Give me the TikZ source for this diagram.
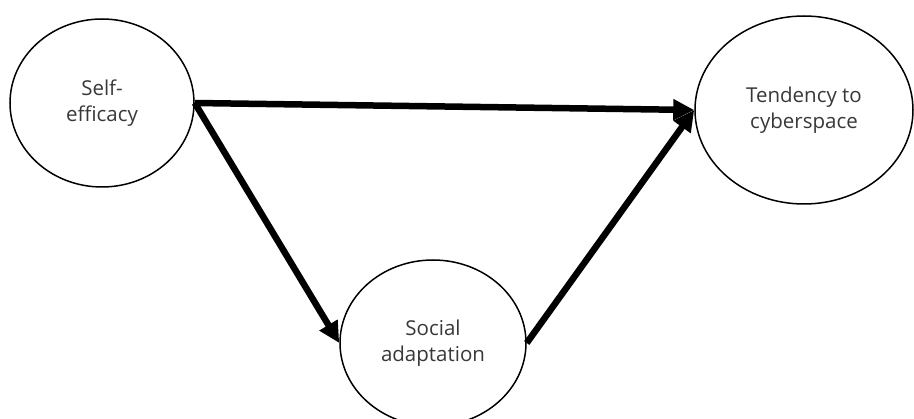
\documentclass[tikz,border=0pt]{standalone}
\usepackage{fontspec}
\setmainfont{Open Sans}
\usetikzlibrary{shapes.geometric,arrows.meta}

\begin{document}
\begin{tikzpicture}[x=1pt,y=-1pt,
    var/.style={ellipse, draw, line width=1.5pt, inner sep=0pt, align=center,
        font=\fontsize{20.5}{26.5}\selectfont, text=black!78},
    path/.style={line width=6.5pt, -{Triangle[length=21pt,width=20pt]}}]
    \useasboundingbox (0,0) rectangle (914,419);
    % Variables
    \node[var, minimum width=184pt, minimum height=168pt] (self) at (102,103) {Self-\\efficacy};
    \node[var, minimum width=218pt, minimum height=188pt] (tend) at (804,110) {Tendency to\\cyberspace};
    \node[var, minimum width=186pt, minimum height=166pt] (soc) at (433,343) {Social\\adaptation};
    % Paths
    \draw[path] (self.east) -- (tend.west);
    \draw[path] (self.east) -- (soc.west);
    \draw[path] (soc.east) -- (tend.west);
\end{tikzpicture}
\end{document}
